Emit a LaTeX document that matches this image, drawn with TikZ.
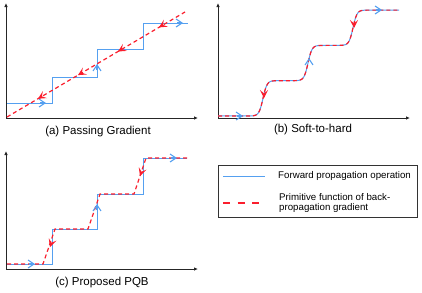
\documentclass[tikz,border=0pt]{standalone}
\usepackage{fontspec}
\setmainfont{Liberation Sans}
\usetikzlibrary{arrows.meta}

\definecolor{fwdblue}{RGB}{85,160,240}
\definecolor{gradred}{RGB}{250,30,45}

\begin{document}
\begin{tikzpicture}[
  x=1pt,y=-1pt,
  declare function={sstep(\t)=1/(1+exp(-max(-9,min(9,\t/2))));},
  axis/.style={line width=0.9pt,black!85,-{Latex[length=4pt,width=3.5pt]}},
  fwd/.style={line width=1pt,fwdblue},
  grad/.style={line width=1.2pt,gradred,dash pattern=on 4pt off 3pt},
  fwd tip/.style={fwdblue,line width=1.1pt,-{Straight Barb[length=6pt,width=8pt]}},
  grad tip/.style={gradred,line width=1pt,-{Stealth[length=8pt,width=8pt,inset=3.5pt]}},
  caption/.style={font=\fontsize{11.5}{13}\selectfont,inner sep=0pt},
  legend text/.style={font=\fontsize{9.7}{10.8}\selectfont,anchor=west,align=left,inner sep=0pt}
]
\useasboundingbox (0,0) rectangle (422,292);

% (a) passing gradient
\draw[axis] (6,118) -- (6,3);
\draw[axis] (6,118) -- (198,118);
\draw[fwd] (7,103) -- (52,103) -- (52,77) -- (97,77) -- (97,49) -- (143,49) -- (143,23) -- (188,23);
\draw[grad] (7,117) -- (185,12);
\draw[fwd tip] (40,103) -- (46,103);
\draw[fwd tip] (97,70) -- (97,64);
\draw[fwd tip] (177,23) -- (183,23);
\foreach \x in {38,78,118,159}
  \draw[grad tip] ({\x+0.86},{117-(\x-7)*0.59-0.51}) -- (\x,{117-(\x-7)*0.59});
\node[caption] (capa) at (98,132) {(a) Passing Gradient};

% (b) soft-to-hard
\draw[axis] (218,118) -- (218,3);
\draw[axis] (218,118) -- (410,118);
\draw[fwd] plot[domain=218:399,samples=240]
  (\x,{116-35.3*(sstep(\x-263)+sstep(\x-308)+sstep(\x-353))});
\draw[grad] plot[domain=218:399,samples=240]
  (\x,{116-35.3*(sstep(\x-263)+sstep(\x-308)+sstep(\x-353))});
\draw[fwd tip] (237,116) -- (243,116);
\draw[grad tip] (264,97) -- (264,98);
\draw[fwd tip] (309,59) -- (309,58);
\draw[grad tip] (354,27) -- (354,28);
\draw[fwd tip] (376,10) -- (382,10);
\node[caption] (capb) at (313,130) {(b) Soft-to-hard};

% (c) proposed PQB
\draw[axis] (6,269) -- (6,151);
\draw[axis] (6,269) -- (198,269);
\draw[fwd] (7,264) -- (52,264) -- (52,229) -- (97,229) -- (97,194) -- (143,194) -- (143,158) -- (187,158);
\draw[grad] (7,264) -- (43,264) -- (55,229) -- (88,229) -- (100,194) -- (134,194) -- (146,158) -- (187,158);
\draw[fwd tip] (29,264) -- (35,264);
\draw[fwd tip] (97,210) -- (97,204);
\draw[fwd tip] (171,158) -- (177,158);
\draw[grad tip] (50.34,246) -- (50,247);
\draw[grad tip] (140.34,175) -- (140,176);
\node[caption] (capc) at (102,283) {(c) Proposed PQB};

% legend
\draw[line width=0.9pt,black!80] (218,165) rectangle (417,217);
\draw[fwd] (223,176) -- (265,176);
\draw[gradred,line width=1.3pt,dash pattern=on 7pt off 7.5pt] (223,203) -- (265,203);
\node[legend text] (fwdlabel) at (278,176) {Forward propagation operation};
\node[legend text] (gradlabel) at (279,203) {Primitive function of back-\\propagation gradient};
\end{tikzpicture}
\end{document}
